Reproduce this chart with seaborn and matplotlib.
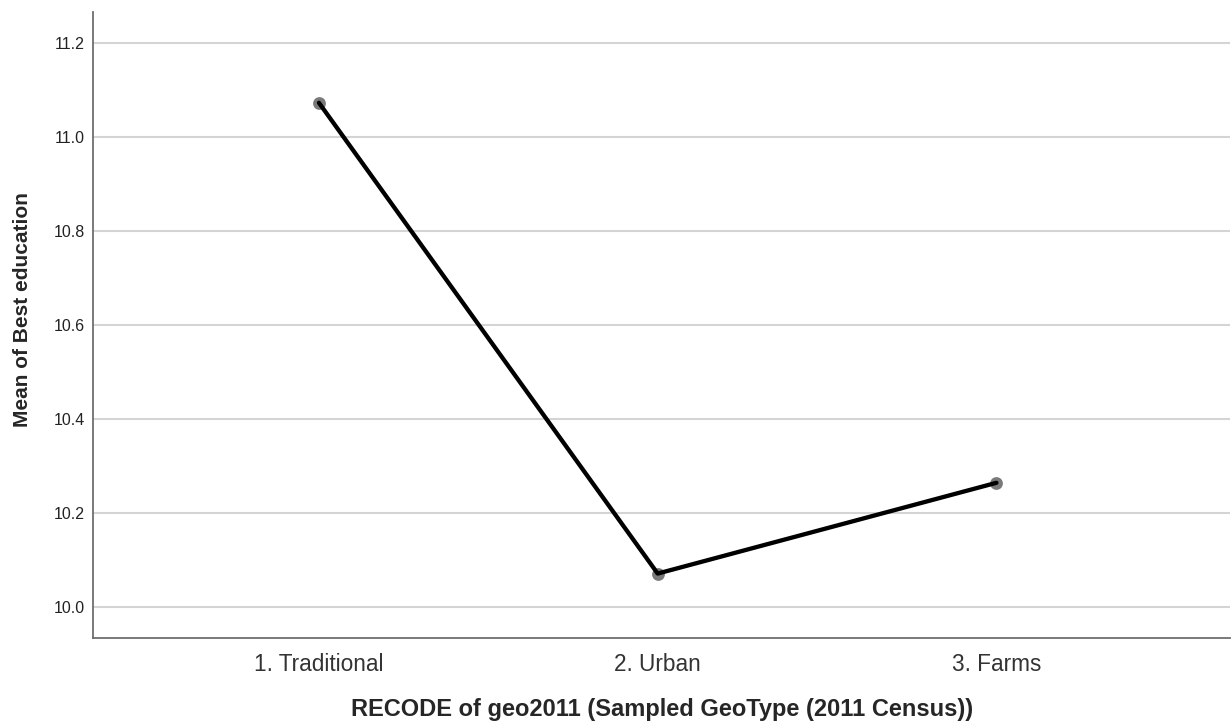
import matplotlib
matplotlib.use("Agg")
import matplotlib.pyplot as plt
import seaborn as sns
import pandas as pd

# Mean of best education by sampled geotype
geotypes = ["1. Traditional", "2. Urban", "3. Farms"]
mean_education = [11.072, 10.071, 10.264]

df = pd.DataFrame({"geotype": geotypes, "mean": mean_education})

sns.set_style("white")
plt.rcParams["font.family"] = ["Liberation Sans", "DejaVu Sans"]

fig = plt.figure(figsize=(12.32, 7.25), dpi=100)
ax = fig.add_axes([0.0755, 0.12, 0.923, 0.8634])

sns.pointplot(data=df, x="geotype", y="mean", color="black", errorbar=None,
              markers="o", linewidth=3.1, markersize=0, ax=ax, zorder=4)
# grey points under the line, as in the SPSS output
ax.scatter(range(len(geotypes)), df["mean"], s=85, color="#7a7a7a", zorder=3,
           linewidths=0)

ax.set_ylim(9.934, 11.265)
ax.set_xlim(-0.667, 2.69)
ax.set_yticks([10.0, 10.2, 10.4, 10.6, 10.8, 11.0, 11.2])
ax.set_yticklabels([f"{v:.1f}" for v in ax.get_yticks()])
ax.grid(axis="y", color="#d4d4d4", linewidth=1.5, zorder=0)
ax.grid(axis="x", visible=False)
ax.set_axisbelow(True)

for s in ["top", "right"]:
    ax.spines[s].set_visible(False)
for s in ["left", "bottom"]:
    ax.spines[s].set_color("#6e6e6e")
    ax.spines[s].set_linewidth(1.3)

ax.tick_params(axis="y", length=0, labelsize=11.5, labelcolor="#222222", pad=6)
ax.tick_params(axis="x", length=0, labelsize=16.3, labelcolor="#333333", pad=10.8)

ax.set_xlabel("RECODE of geo2011 (Sampled GeoType (2011 Census))",
              fontsize=17, fontweight="bold", labelpad=15.5)
ax.set_ylabel("Mean of Best education", fontsize=15, fontweight="bold")
ax.yaxis.set_label_coords(-0.0533, 0.524)

fig.savefig("out.png", dpi=100)
